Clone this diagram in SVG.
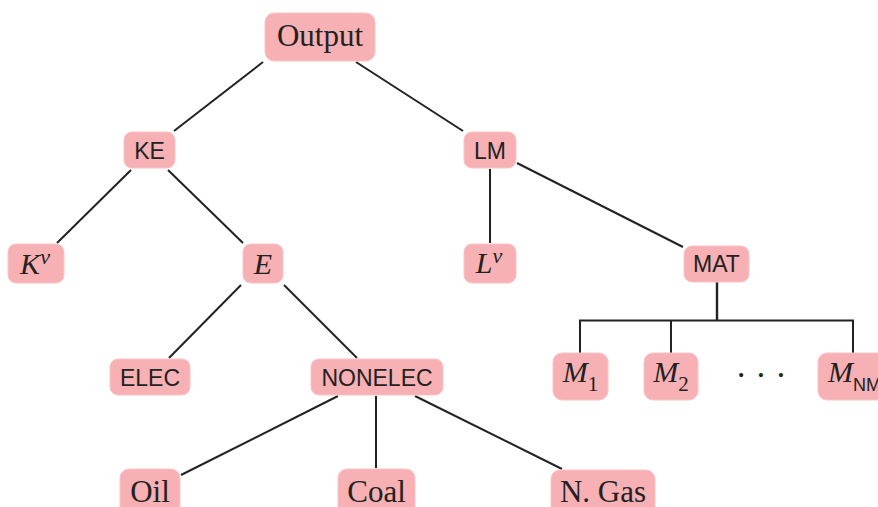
<svg xmlns="http://www.w3.org/2000/svg" width="878" height="507" viewBox="0 0 878 507">
  <style>
    .box { fill: #f7b0b3; stroke: #f9c4c6; stroke-width: 1; }
    .serif { font-family: "Liberation Serif", "DejaVu Serif", serif; font-size: 31px; fill: #222; text-anchor: middle; }
    .math { font-family: "Liberation Serif", "DejaVu Serif", serif; font-style: italic; font-size: 30px; fill: #222; text-anchor: middle; }
    .sans { font-family: "Liberation Sans", Arial, sans-serif; font-size: 23px; fill: #222; text-anchor: middle; }
    .sup { font-size: 22px; }
    .sub { font-style: normal; font-size: 21px; }
    .edges line, .edges polyline { stroke: #222; stroke-width: 2; fill: none; }
    .bracket { stroke-width: 1.7; }
  </style>

  <g class="edges" id="connectors">
    <line x1="174" y1="131" x2="263" y2="62"/>
    <line x1="356" y1="62" x2="463" y2="131"/>
    <line x1="131" y1="170" x2="57" y2="243"/>
    <line x1="168" y1="170" x2="243" y2="243"/>
    <line x1="241" y1="285" x2="169" y2="358"/>
    <line x1="284" y1="285" x2="357" y2="358"/>
    <line x1="490" y1="169" x2="490" y2="243"/>
    <line x1="517" y1="163" x2="683" y2="247"/>
    <line x1="338" y1="396" x2="181" y2="475"/>
    <line x1="376" y1="396" x2="376" y2="468"/>
    <line x1="415" y1="396" x2="562" y2="469"/>
    <line x1="717" y1="282" x2="717" y2="321" style="stroke-width:2.4"/>
    <polyline class="bracket" points="580,353 580,320.5 853,320.5 853,353"/>
    <line class="bracket" x1="671" y1="320.5" x2="671" y2="353"/>
  </g>

  <g id="output">
    <rect class="box" x="265" y="13" width="110" height="48" rx="9"/>
    <text class="serif" x="320" y="46">Output</text>
  </g>
  <g id="ke">
    <rect class="box" x="124" y="132" width="51" height="36" rx="8"/>
    <text class="sans" x="149.5" y="158.5">KE</text>
  </g>
  <g id="lm">
    <rect class="box" x="464" y="132" width="52" height="36" rx="8"/>
    <text class="sans" x="490" y="158.5">LM</text>
  </g>
  <g id="kv">
    <rect class="box" x="8" y="244" width="56" height="39" rx="8"/>
    <text class="math" x="35" y="274">K<tspan class="sup" dy="-10">v</tspan></text>
  </g>
  <g id="e">
    <rect class="box" x="243" y="244" width="40" height="39" rx="8"/>
    <text class="math" x="263" y="274">E</text>
  </g>
  <g id="lv">
    <rect class="box" x="464" y="244" width="52" height="39" rx="8"/>
    <text class="math" x="489" y="273">L<tspan class="sup" dy="-10">v</tspan></text>
  </g>
  <g id="mat">
    <rect class="box" x="684" y="246" width="65" height="36" rx="8"/>
    <text class="sans" x="716.5" y="272">MAT</text>
  </g>
  <g id="elec">
    <rect class="box" x="110" y="359" width="80" height="36" rx="8"/>
    <text class="sans" x="150" y="386">ELEC</text>
  </g>
  <g id="nonelec">
    <rect class="box" x="311" y="359" width="132" height="36" rx="8"/>
    <text class="sans" x="377" y="386">NONELEC</text>
  </g>
  <g id="m1">
    <rect class="box" x="553" y="353" width="55" height="47" rx="9"/>
    <text class="math" x="580.5" y="382">M<tspan class="sub" dy="9">1</tspan></text>
  </g>
  <g id="m2">
    <rect class="box" x="644" y="353" width="54" height="47" rx="9"/>
    <text class="math" x="671" y="382">M<tspan class="sub" dy="9">2</tspan></text>
  </g>
  <g id="dots">
    <text class="serif" x="761" y="386" style="font-size:34px">· · ·</text>
  </g>
  <g id="mnm">
    <rect class="box" x="818" y="353" width="72" height="47" rx="9"/>
    <text class="math" x="828" y="382" style="text-anchor:start">M<tspan font-family="Liberation Sans, Arial, sans-serif" font-style="normal" font-size="18" dy="9">NM</tspan></text>
  </g>
  <g id="oil">
    <rect class="box" x="120" y="469" width="60" height="48" rx="9"/>
    <text class="serif" x="150" y="502">Oil</text>
  </g>
  <g id="coal">
    <rect class="box" x="338" y="469" width="77" height="48" rx="9"/>
    <text class="serif" x="376.5" y="502">Coal</text>
  </g>
  <g id="ngas">
    <rect class="box" x="551" y="470" width="104" height="48" rx="9"/>
    <text class="serif" x="603" y="502">N. Gas</text>
  </g>
</svg>
